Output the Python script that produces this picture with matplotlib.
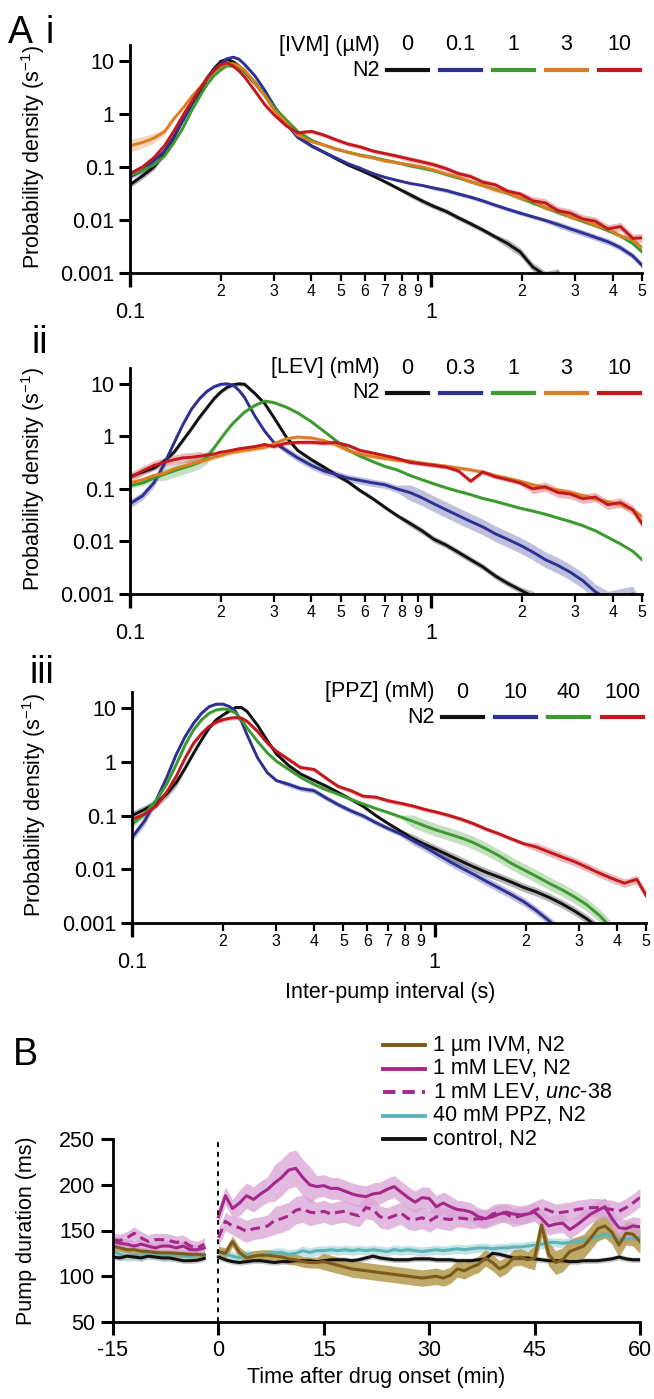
import numpy as np
import matplotlib
matplotlib.use('Agg')
import matplotlib.pyplot as plt
from matplotlib.lines import Line2D
from matplotlib.ticker import FixedLocator, FixedFormatter, NullLocator

plt.rcParams['font.family'] = ['Liberation Sans', 'DejaVu Sans']
plt.rcParams['mathtext.fontset'] = 'custom'
plt.rcParams['mathtext.rm'] = 'Liberation Sans'
plt.rcParams['mathtext.it'] = 'Liberation Sans:italic'
plt.rcParams['mathtext.default'] = 'regular'
plt.rcParams['axes.unicode_minus'] = False

# ---------------- data: inter-pump interval distributions (panel A) ----------------
ipi_s = [0.10, 0.11, 0.12, 0.13, 0.14, 0.15, 0.16, 0.17, 0.18, 0.19, 0.20, 0.21,
         0.22, 0.23, 0.24, 0.26, 0.28, 0.30, 0.33, 0.36, 0.40, 0.44, 0.48, 0.53,
         0.58, 0.64, 0.70, 0.77, 0.85, 0.93, 1.02, 1.12, 1.23, 1.35, 1.48, 1.63,
         1.79, 1.97, 2.17, 2.39, 2.63, 2.89, 3.18, 3.50, 3.85, 4.24, 4.66, 5.00]

# Ai  ivermectin (uM)
ivm_0 = [0.046, 0.068, 0.10, 0.18, 0.36, 0.80, 1.5, 2.5, 4.6, 7.2, 9.8, 10.8, 9.6, 8.0, 6.2, 3.75,
         2.26, 1.36, 0.71, 0.38, 0.25, 0.19, 0.146, 0.109, 0.088, 0.068, 0.053, 0.040, 0.030,
         0.023, 0.018, 0.0145, 0.011, 0.0085, 0.0065, 0.0048, 0.0036, 0.0025, 0.0013, 0.0009,
         0.0010, 0.0005, 0.0004, 0.0003, 0.0003, 0.0003, 0.0003, 0.0003]
ivm_01 = [0.066, 0.085, 0.13, 0.20, 0.38, 0.75, 1.5, 2.8, 4.8, 7.0, 8.8, 11.0, 11.8, 10.8, 8.6, 5.2,
          2.8, 1.45, 0.66, 0.36, 0.25, 0.19, 0.15, 0.115, 0.095, 0.075, 0.064, 0.056, 0.049,
          0.045, 0.040, 0.036, 0.031, 0.027, 0.023, 0.019, 0.016, 0.0135, 0.0115, 0.0098,
          0.0082, 0.0068, 0.0057, 0.0047, 0.0039, 0.0030, 0.0021, 0.0014]
ivm_1 = [0.070, 0.085, 0.11, 0.16, 0.29, 0.55, 1.15, 2.1, 3.6, 5.3, 6.8, 8.2, 8.0, 7.2, 6.2, 4.0,
         2.3, 1.36, 0.77, 0.47, 0.32, 0.26, 0.22, 0.19, 0.168, 0.152, 0.135, 0.121, 0.105,
         0.095, 0.085, 0.072, 0.062, 0.053, 0.045, 0.038, 0.032, 0.026, 0.021, 0.017, 0.014,
         0.0115, 0.0095, 0.0078, 0.0064, 0.0050, 0.0036, 0.0025]
ivm_3 = [0.25, 0.29, 0.35, 0.46, 0.82, 1.3, 2.1, 3.1, 4.6, 6.4, 7.9, 8.8, 8.9, 8.0, 6.8, 3.8,
         2.2, 1.2, 0.68, 0.40, 0.30, 0.26, 0.22, 0.19, 0.165, 0.148, 0.13, 0.12, 0.11, 0.10,
         0.088, 0.074, 0.065, 0.052, 0.046, 0.037, 0.033, 0.026, 0.023, 0.017, 0.0150, 0.0115,
         0.0100, 0.0080, 0.0068, 0.0050, 0.0042, 0.0030]
ivm_10 = [0.075, 0.10, 0.15, 0.25, 0.48, 0.95, 1.7, 2.9, 4.6, 6.6, 8.4, 9.2, 8.0, 6.5, 5.0, 2.7,
          1.5, 0.98, 0.60, 0.44, 0.47, 0.40, 0.33, 0.27, 0.24, 0.20, 0.18, 0.16, 0.14, 0.125,
          0.11, 0.093, 0.075, 0.066, 0.052, 0.046, 0.035, 0.031, 0.023, 0.021, 0.015, 0.0135,
          0.0105, 0.0095, 0.0068, 0.0075, 0.0045, 0.0046]
ivm_err = [[0.06] * 4 + [0.03] * 24 + [0.05] * 8 + [0.08] * 12,
           [0.05] * 3 + [0.02] * 27 + [0.04] * 10 + [0.06] * 8,
           [0.03] * 48,
           [0.12, 0.11, 0.09, 0.06] + [0.025] * 30 + [0.05] * 14,
           [0.04] * 28 + [0.05] * 10 + [0.08] * 10]

# Aii  levamisole (mM)
lev_0 = [0.17, 0.21, 0.25, 0.34, 0.50, 0.85, 1.4, 2.3, 3.5, 5.2, 7.0, 8.6, 9.6, 10.0, 9.8, 6.5,
         4.2, 2.3, 0.97, 0.54, 0.36, 0.26, 0.19, 0.135, 0.093, 0.065, 0.045, 0.031, 0.022,
         0.016, 0.011, 0.0085, 0.0062, 0.0045, 0.0033, 0.0022, 0.0016, 0.0012, 0.0009, 0.0006,
         0.0004, 0.0003, 0.0003, 0.0003, 0.0003, 0.0003, 0.0003, 0.0003]
lev_03 = [0.052, 0.074, 0.13, 0.30, 0.75, 1.7, 3.3, 5.2, 7.2, 8.8, 9.8, 10.0, 9.4, 7.5, 5.5,
          2.4, 1.25, 0.77, 0.54, 0.39, 0.28, 0.22, 0.19, 0.16, 0.145, 0.13, 0.12, 0.10, 0.085,
          0.068, 0.052, 0.040, 0.031, 0.024, 0.019, 0.014, 0.011, 0.0085, 0.0063, 0.0045,
          0.0035, 0.0026, 0.0018, 0.0011, 0.0008, 0.0009, 0.0010, 0.0005]
lev_1 = [0.115, 0.13, 0.16, 0.19, 0.22, 0.25, 0.28, 0.32, 0.40, 0.6, 0.9, 1.3, 1.8, 2.3, 2.9,
         3.9, 4.7, 4.4, 3.6, 2.8, 1.9, 1.25, 0.85, 0.55, 0.42, 0.33, 0.27, 0.23, 0.18, 0.15,
         0.125, 0.105, 0.09, 0.078, 0.066, 0.058, 0.050, 0.043, 0.038, 0.033, 0.028, 0.024,
         0.020, 0.016, 0.012, 0.009, 0.0065, 0.0045]
lev_3 = [0.13, 0.15, 0.18, 0.20, 0.24, 0.27, 0.30, 0.33, 0.36, 0.40, 0.43, 0.47, 0.50, 0.52,
         0.54, 0.58, 0.62, 0.72, 0.90, 0.97, 0.93, 0.83, 0.70, 0.54, 0.46, 0.41, 0.38, 0.35,
         0.34, 0.31, 0.29, 0.27, 0.25, 0.23, 0.21, 0.18, 0.16, 0.14, 0.12, 0.105, 0.095, 0.085,
         0.075, 0.065, 0.057, 0.050, 0.040, 0.030]
lev_10 = [0.166, 0.22, 0.28, 0.32, 0.36, 0.39, 0.40, 0.42, 0.44, 0.46, 0.50, 0.52, 0.55, 0.58,
          0.60, 0.64, 0.70, 0.64, 0.74, 0.77, 0.77, 0.74, 0.77, 0.67, 0.54, 0.48, 0.43, 0.38,
          0.32, 0.30, 0.28, 0.26, 0.22, 0.14, 0.21, 0.17, 0.15, 0.13, 0.10, 0.11, 0.085, 0.08,
          0.065, 0.07, 0.05, 0.055, 0.04, 0.022]
lev_err = [[0.04] * 28 + [0.06] * 10 + [0.10] * 10,
           [0.08] * 4 + [0.03] * 14 + [0.07] * 10 + [0.15] * 20,
           [0.05] * 3 + [0.12] * 6 + [0.03] * 39,
           [0.04] * 48,
           [0.09] * 8 + [0.04] * 30 + [0.09] * 10]

# Aiii  piperazine (mM)
ppz_0 = [0.10, 0.13, 0.17, 0.25, 0.41, 0.77, 1.47, 2.6, 4.3, 6.1, 7.5, 8.9, 10.3, 10.3, 8.7,
         4.8, 2.5, 1.4, 0.85, 0.60, 0.45, 0.35, 0.27, 0.20, 0.15, 0.10, 0.072, 0.052, 0.037,
         0.029, 0.023, 0.018, 0.014, 0.011, 0.0088, 0.0072, 0.0058, 0.0046, 0.0038, 0.0030,
         0.0023, 0.0017, 0.0012, 0.0008, 0.0004, 0.0003, 0.0003, 0.0003]
ppz_10 = [0.039, 0.079, 0.19, 0.50, 1.37, 3.0, 5.3, 8.1, 10.7, 11.9, 11.9, 10.7, 8.7, 5.7, 3.2,
          1.19, 0.63, 0.45, 0.38, 0.32, 0.29, 0.21, 0.16, 0.122, 0.099, 0.074, 0.058, 0.046,
          0.034, 0.026, 0.019, 0.014, 0.0105, 0.008, 0.006, 0.0045, 0.0034, 0.0025, 0.0017,
          0.0011, 0.0007, 0.0003, 0.0003, 0.0003, 0.0003, 0.0003, 0.0003, 0.0003]
ppz_40 = [0.069, 0.106, 0.19, 0.38, 0.89, 2.1, 4.0, 6.1, 8.1, 9.3, 9.7, 9.3, 8.1, 6.1, 4.3,
          2.4, 1.47, 1.03, 0.72, 0.52, 0.38, 0.30, 0.25, 0.20, 0.165, 0.135, 0.115, 0.095, 0.078,
          0.064, 0.053, 0.045, 0.038, 0.031, 0.024, 0.018, 0.013, 0.0098, 0.0074, 0.0055,
          0.0042, 0.0031, 0.0022, 0.0014, 0.0008, 0.0004, 0.0003, 0.0003]
ppz_100 = [0.085, 0.106, 0.15, 0.27, 0.54, 1.19, 2.25, 3.4, 4.6, 5.5, 6.1, 6.5, 6.7, 6.5, 5.7,
           3.7, 2.25, 1.58, 1.1, 0.79, 0.72, 0.49, 0.35, 0.29, 0.23, 0.22, 0.19, 0.17, 0.15,
           0.13, 0.115, 0.10, 0.085, 0.07, 0.056, 0.046, 0.037, 0.030, 0.026, 0.021, 0.017,
           0.014, 0.011, 0.0085, 0.0068, 0.0055, 0.0065, 0.0033]
ppz_err = [[0.08] * 5 + [0.03] * 23 + [0.08] * 20,
           [0.08] * 3 + [0.03] * 15 + [0.05] * 10 + [0.08] * 20,
           [0.06] * 3 + [0.03] * 25 + [0.12] * 20,
           [0.04] * 38 + [0.08] * 10]

# ---------------- data: pump duration time course (panel B) ----------------
t_pre = [-15, -14, -13, -12, -11, -10, -9, -8, -7, -6, -5, -4, -3, -2]
t_post = list(range(0, 61))

ivm_pre = [133, 131, 129, 129, 127.5, 127, 126, 125.5, 125.5, 125, 124.5, 124, 124, 123]
lev_pre = [138, 136, 135, 133, 135, 133, 131, 133, 133, 131, 133, 129, 129, 131]
unc_pre = [140, 139, 142, 147, 142, 138, 140, 140, 139, 137, 138, 133, 131, 135]
ppz_pre = [127, 124, 122, 123, 122, 125, 124, 122, 122, 124, 122, 122, 123, 124]
ctl_pre = [121, 120, 122, 121, 120, 122, 121, 120, 120, 118.5, 117, 117, 117.5, 119.5]

ivm_post = [127, 125, 138, 126, 120, 122, 123, 123, 122, 121, 119, 118, 116, 115, 115, 116, 114,
            112, 110, 108, 107, 106, 105, 104, 103, 102, 101, 100, 99, 98, 99, 100, 98, 101, 108,
            106, 110, 113, 120, 115, 108, 112, 120, 121, 118, 120, 156, 124, 115, 118, 127, 130,
            133, 142, 152, 155, 148, 134, 147, 146, 138]
lev_post = [165, 188, 174, 180, 188, 184, 190, 195, 202, 208, 216, 218, 208, 200, 198, 199, 196,
            196, 193, 190, 188, 187, 190, 191, 195, 198, 192, 186, 181, 186, 185, 176, 180, 176,
            173, 172, 170, 165, 163, 165, 168, 170, 168, 167, 168, 170, 163, 155, 157, 158, 151,
            156, 162, 168, 172, 176, 163, 153, 152, 155, 154]
unc_post = [142, 160, 155, 153, 149, 152, 153, 155, 161, 163, 166, 172, 174, 170, 169, 171, 168,
            170, 171, 168, 166, 175, 173, 165, 163, 166, 169, 163, 162, 164, 160, 165, 163, 162,
            164, 163, 162, 163, 162, 168, 170, 168, 164, 166, 168, 172, 175, 172, 169, 170, 171,
            173, 174, 175, 175, 174, 173, 171, 175, 180, 186]
ppz_post = [126, 124, 122, 120, 124, 122, 123, 124, 126, 126, 124, 125, 128, 126, 128, 128, 129,
            128, 129, 128, 129, 128, 129, 128, 127, 129, 128, 129, 128, 127, 128, 129, 128, 129,
            130, 129, 130, 131, 131, 130, 131, 131, 132, 132, 133, 134, 135, 137, 137, 136, 137,
            138, 139, 141, 143, 146, 144, 140, 141, 142, 142]
ctl_post = [121, 118, 116, 115, 116, 117, 117, 116, 115, 116, 116, 117, 117, 117, 116, 117, 118,
            118, 118, 117, 118, 120, 122, 120, 119, 118, 118, 118, 119, 119, 119, 118, 118, 118,
            117, 117, 117, 118, 119, 125, 124, 122, 120, 120, 120, 119, 118, 117, 117, 117, 116,
            116, 117, 117, 117, 118, 119, 121, 119, 118, 118]

ivm_b_err = ([4] * 14, [6] * 15 + [9] * 30 + [13] * 16)
lev_b_err = ([6] * 14, [10] * 3 + [14] * 5 + [20] * 6 + [12] * 20 + [10] * 27)
unc_b_err = ([7] * 14, [10] * 3 + [12] * 5 + [15] * 6 + [12] * 20 + [10] * 27)
ppz_b_err = ([6] * 14, [5] * 61)
ctl_b_err = ([3] * 14, [3] * 61)

# ---------------- figure ----------------
W, H = 654, 1399
fig = plt.figure(figsize=(W / 100, H / 100), dpi=100)


def box(l, t, r, b):
    return [l / W, 1 - b / H, (r - l) / W, (b - t) / H]


def fpx(x, y):
    return x / W, 1 - y / H


c_black, c_blue, c_green, c_orange, c_red = '#111111', '#2e3192', '#3d9a30', '#dc7d22', '#c3191e'

minor_x = [0.2, 0.3, 0.4, 0.5, 0.6, 0.7, 0.8, 0.9, 2, 3, 4, 5]
minor_lbl = ['2', '3', '4', '5', '6', '7', '8', '9', '2', '3', '4', '5']


def dist_panel(rect, curves, errs, colors, header, concs, leg_x0):
    ax = fig.add_axes(rect)
    x = np.array(ipi_s)
    for y, e, c in zip(curves, errs, colors):
        y = np.array(y)
        e = np.array(e)
        ax.fill_between(x, y * 10 ** -e, y * 10 ** e, color=c, alpha=0.3, lw=0)
    for y, c in zip(curves, colors):
        ax.plot(x, y, color=c, lw=2.1)
    ax.set_xscale('log')
    ax.set_yscale('log')
    ax.set_xlim(0.1, 5)
    ax.set_ylim(0.001, 20)
    for s in ['top', 'right']:
        ax.spines[s].set_visible(False)
    for s in ['left', 'bottom']:
        ax.spines[s].set_linewidth(2)
    ax.yaxis.set_major_locator(FixedLocator([0.001, 0.01, 0.1, 1, 10]))
    ax.yaxis.set_major_formatter(FixedFormatter(['0.001', '0.01', '0.1', '1', '10']))
    ax.yaxis.set_minor_locator(NullLocator())
    ax.xaxis.set_major_locator(FixedLocator([0.1, 1]))
    ax.xaxis.set_major_formatter(FixedFormatter(['0.1', '1']))
    ax.xaxis.set_minor_locator(FixedLocator(minor_x))
    ax.xaxis.set_minor_formatter(FixedFormatter(minor_lbl))
    ax.tick_params(axis='y', which='major', length=8, width=2.2, labelsize=15.5, pad=3)
    ax.tick_params(axis='x', which='major', length=10, width=2.4, labelsize=15.5, pad=11)
    ax.tick_params(axis='x', which='minor', length=6, width=1.6, labelsize=11.5, pad=2)
    ax.set_ylabel('Probability density (s$^{-1}$)', fontsize=15.5)
    ax.yaxis.set_label_coords(-0.19, 0.51)
    ax.yaxis.label.set_va('center')

    # concentration key
    step, seg = 0.1035, 0.08
    ly = 0.89
    ax.text(leg_x0 - 0.014, 1.0, header, transform=ax.transAxes, ha='right', va='center',
            fontsize=15.5)
    ax.text(leg_x0 - 0.014, ly, 'N2', transform=ax.transAxes, ha='right', va='center',
            fontsize=15.5)
    for i, (c, lab) in enumerate(zip(colors, concs)):
        xs = leg_x0 + i * step
        ax.add_line(Line2D([xs, xs + seg], [ly, ly], transform=ax.transAxes, color=c, lw=3,
                           clip_on=False))
        ax.text(xs + seg / 2, 1.0, lab, transform=ax.transAxes, ha='center', va='center',
                fontsize=15.5)
    return ax


five = [c_black, c_blue, c_green, c_orange, c_red]
dist_panel(box(130, 45, 642, 273), [ivm_0, ivm_01, ivm_1, ivm_3, ivm_10], ivm_err, five,
           '[IVM] (\u00b5M)', ['0', '0.1', '1', '3', '10'], 0.502)
dist_panel(box(130, 368, 642, 594), [lev_0, lev_03, lev_1, lev_3, lev_10], lev_err, five,
           '[LEV] (mM)', ['0', '0.3', '1', '3', '10'], 0.502)
ax3 = dist_panel(box(132, 692, 646, 923), [ppz_0, ppz_10, ppz_40, ppz_100], ppz_err,
                 [c_black, c_blue, c_green, c_red], '[PPZ] (mM)', ['0', '10', '40', '100'], 0.603)
ax3.set_xlabel('Inter-pump interval (s)', fontsize=15.5)
ax3.xaxis.set_label_coords(0.502, -0.299)
ax3.xaxis.label.set_va('center')

fig.text(*fpx(8, 33), 'A', fontsize=27, va='center', ha='left')
fig.text(*fpx(46, 33), 'i', fontsize=27, va='center', ha='left')
fig.text(*fpx(31, 343), 'ii', fontsize=27, va='center', ha='left')
fig.text(*fpx(29, 673), 'iii', fontsize=27, va='center', ha='left')
fig.text(*fpx(13, 1055), 'B', fontsize=27, va='center', ha='left')

# ---------------- panel B ----------------
axb = fig.add_axes(box(113, 1139, 640, 1322))
c_ivm, c_lev, c_ppz, c_ctl = '#7d5a1a', '#a3288a', '#5cb3b8', '#111111'
band = {c_ivm: ('#b39a4f', 0.85), c_lev: ('#d9a3d6', 0.75), c_ppz: ('#b4dde0', 0.8),
        c_ctl: ('#bbbbbb', 0.8)}
series_b = [
    (ppz_pre, ppz_post, ppz_b_err, c_ppz, '-'),
    (ctl_pre, ctl_post, ctl_b_err, c_ctl, '-'),
    (ivm_pre, ivm_post, ivm_b_err, c_ivm, '-'),
    (unc_pre, unc_post, unc_b_err, c_lev, (0, (3.2, 1.8))),
    (lev_pre, lev_post, lev_b_err, c_lev, '-'),
]
for pre, post, err, c, ls in series_b:
    bc, a = band[c]
    for t, y, e in [(t_pre, pre, err[0]), (t_post, post, err[1])]:
        y = np.array(y, dtype=float)
        e = np.array(e, dtype=float)
        axb.fill_between(t, y - e, y + e, color=bc, alpha=a, lw=0)
for pre, post, err, c, ls in series_b:
    axb.plot(t_pre, pre, color=c, lw=2.2, ls=ls)
    axb.plot(t_post, post, color=c, lw=2.2, ls=ls)
axb.axvline(0, color='k', lw=1.4, ls=(0, (2.5, 2.5)))
axb.set_xlim(-15, 60)
axb.set_ylim(50, 250)
axb.set_xticks([-15, 0, 15, 30, 45, 60])
axb.set_yticks([50, 100, 150, 200, 250])
for s in ['top', 'right']:
    axb.spines[s].set_visible(False)
for s in ['left', 'bottom']:
    axb.spines[s].set_linewidth(2)
axb.tick_params(length=9, width=2.2, labelsize=15.5, pad=4)
axb.set_ylabel('Pump duration (ms)', fontsize=15.5)
axb.yaxis.set_label_coords(-0.165, 0.5)
axb.yaxis.label.set_va('center')
axb.set_xlabel('Time after drug onset (min)', fontsize=15.5)
axb.xaxis.set_label_coords(0.5, -0.306)
axb.xaxis.label.set_va('center')

leg_rows = [('1 \u00b5m IVM, N2', c_ivm, '-'),
            ('1 mM LEV, N2', c_lev, '-'),
            ('1 mM LEV, $\\mathit{unc}$-$\\mathit{38}$', c_lev, (0, (3.2, 1.8))),
            ('40 mM PPZ, N2', c_ppz, '-'),
            ('control, N2', c_ctl, '-')]
for i, (lab, c, ls) in enumerate(leg_rows):
    yy = 1045 + i * 23.5
    x0, y0 = fpx(383, yy)
    x1, _ = fpx(425, yy)
    fig.add_artist(Line2D([x0, x1], [y0, y0], transform=fig.transFigure, color=c, lw=2.8, ls=ls))
    fig.text(*fpx(433, yy), lab, fontsize=15.5, va='center', ha='left')

fig.savefig('out.png', dpi=100)
